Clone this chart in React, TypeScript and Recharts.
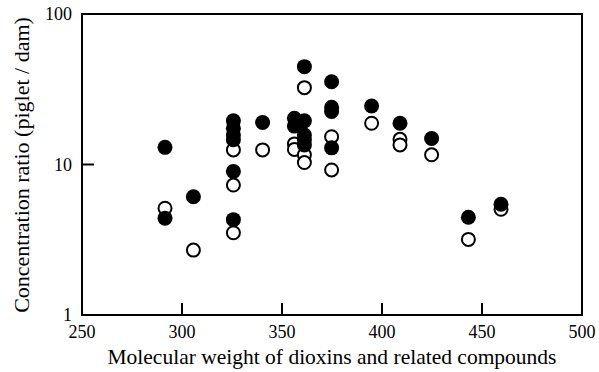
import { ScatterChart, Scatter, XAxis, YAxis, ReferenceArea } from "recharts";

// molecular weight / concentration ratio
const filledWeight = [
  291.5, 291.5, 305.7, 325.7, 325.7, 325.7, 325.7, 325.7, 325.7, 340.3, 356.2, 356.2, 361.2,
  361.2, 361.2, 361.2, 361.2, 374.8, 374.8, 374.8, 374.8, 394.8, 409, 424.8, 443.2, 459.5,
];
const filledRatio = [
  13.0, 4.4, 6.1, 19.5, 17.4, 15.7, 14.6, 9.0, 4.3, 19.0, 20.3, 18.0, 44.7, 19.5, 15.7, 14.6,
  13.5, 35.5, 24.0, 22.5, 12.9, 24.5, 18.8, 14.9, 4.46, 5.44,
];
const openWeight = [
  291.5, 305.7, 325.7, 325.7, 325.7, 340.3, 356.2, 356.2, 361.2, 361.2, 361.2, 374.8, 374.8,
  394.8, 409, 409, 424.8, 443.2, 459.5,
];
const openRatio = [
  5.12, 2.7, 12.5, 7.3, 3.52, 12.5, 13.7, 12.6, 32.4, 11.6, 10.3, 15.3, 9.2, 18.8, 14.7, 13.5,
  11.6, 3.18, 5.04,
];
const xTicks = [250, 300, 350, 400, 450, 500];
const yTicks = [1, 10, 100];

const filledData = filledWeight.map((w, i) => ({ w, r: filledRatio[i] }));
const openData = openWeight.map((w, i) => ({ w, r: openRatio[i] }));

const FONT = "Liberation Serif";

const XTick = (props: any) => {
  const { x, y, payload } = props;
  return (
    <g>
      <line x1={x} x2={x} y1={y - 10} y2={y - 22} stroke="#000" strokeWidth={2} />
      <text x={x} y={y} dy="0.71em" textAnchor="middle" style={{ fontFamily: FONT, fontSize: 18 }} fill="#000">
        {payload.value}
      </text>
    </g>
  );
};

const YTick = (props: any) => {
  const { x, y, payload } = props;
  return (
    <g>
      <line x1={x + 10} x2={x + 22} y1={y} y2={y} stroke="#000" strokeWidth={2} />
      <text x={x} y={y} dy="0.35em" textAnchor="end" style={{ fontFamily: FONT, fontSize: 18 }} fill="#000">
        {payload.value}
      </text>
    </g>
  );
};

const FilledDot = (props: any) => <circle cx={props.cx} cy={props.cy} r={7.5} fill="#000" />;
const OpenDot = (props: any) => (
  <circle cx={props.cx} cy={props.cy} r={6.5} fill="#fff" stroke="#000" strokeWidth={2} />
);

export default function App() {
  return (
    <div style={{ position: "absolute", left: 0, top: 0, background: "#fff" }}>
      <ScatterChart width={599} height={372} margin={{ top: 14, right: 17, bottom: 0, left: 0 }}>
        <XAxis
          dataKey="w"
          type="number"
          domain={[250, 500]}
          ticks={xTicks}
          height={57}
          tickSize={0}
          tickMargin={10}
          tickLine={false}
          axisLine={false}
          tick={(p: any) => <XTick {...p} />}
        />
        <YAxis
          dataKey="r"
          type="number"
          scale="log"
          domain={[1, 100]}
          ticks={yTicks}
          width={82}
          tickSize={0}
          tickMargin={10}
          tickLine={false}
          axisLine={false}
          tick={(p: any) => <YTick {...p} />}
        />
        <ReferenceArea
          x1={250}
          x2={500}
          y1={1}
          y2={100}
          fill="none"
          fillOpacity={0}
          stroke="#000"
          strokeWidth={2}
          strokeOpacity={1}
          ifOverflow="visible"
        />
        <Scatter data={openData} shape={<OpenDot />} isAnimationActive={false} />
        <Scatter data={filledData} shape={<FilledDot />} isAnimationActive={false} />
      </ScatterChart>
      <div
        style={{
          position: "absolute",
          left: 82,
          width: 500,
          top: 343,
          textAlign: "center",
          fontFamily: FONT,
          fontSize: 21.5,
          lineHeight: "28px",
          whiteSpace: "nowrap",
        }}
      >
        Molecular weight of dioxins and related compounds
      </div>
      <div
        style={{
          position: "absolute",
          left: 21 - 150.5,
          top: 164.5 - 14,
          width: 301,
          height: 28,
          lineHeight: "28px",
          textAlign: "center",
          transform: "rotate(-90deg)",
          fontFamily: FONT,
          fontSize: 22,
          whiteSpace: "nowrap",
        }}
      >
        Concentration ratio (piglet / dam)
      </div>
    </div>
  );
}
